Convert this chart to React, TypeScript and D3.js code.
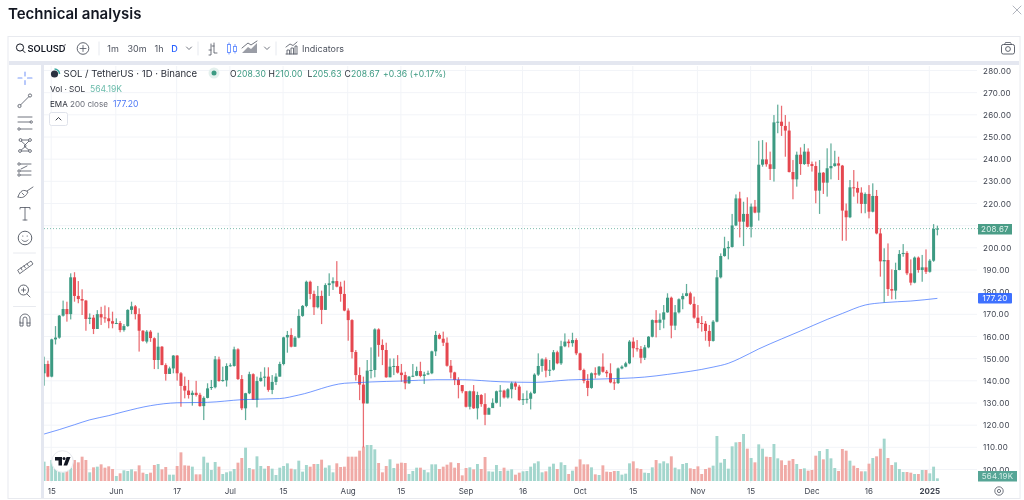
import React from 'react';
import * as d3 from 'd3';

const opens = [143.4,147.6,141.9,158.7,159.5,169.4,172.4,170.1,186.7,178.3,
176.9,176.2,167.9,168.5,163.4,170.1,168.6,168.2,166.9,165.8,
166.1,162.9,164.7,172,173.6,170.1,162.6,157.7,162.2,159.2,
149.4,155.4,147.1,143.1,145.6,151.4,143.4,137.7,135.6,133.6,
134.6,133.7,128.6,132.3,137,137.1,149.7,139.9,140.2,146.7,
146.7,154.2,140.8,127.6,134.4,143,131.4,139.9,141.4,141.9,
135.9,139.5,141.9,147.6,159.6,160.7,155.4,159.5,169.3,173.8,
184.7,179.2,173.2,178.3,172,183.2,184,185,182.5,179.2,
171.7,167.4,153,142.6,138.3,129.8,144.6,144.9,163.2,156.2,
153.9,141.6,146.4,146.7,143.7,142.6,138.9,141.9,142.3,144.4,
142.2,142.9,143.4,153.3,160.7,159,157.2,146.8,143.8,140.4,
138.1,135.3,128.3,135.3,127.6,133.6,129.5,124.7,127.7,130.1,
135.3,135.6,132.5,136.2,138.9,137.4,131.3,131.8,131.9,134.4,
142.8,146.7,149.7,144.6,145,152.9,147.9,155.6,157.7,157,
158.4,152.4,144.9,140,136.8,143.4,142.8,146.4,144.1,143.4,
139.3,139,145.6,146.4,147.9,157.7,154.7,154.4,150.4,155.1,
159.9,167.4,166.2,167.6,170.9,177.5,164.9,170.9,176.8,178.3,
179.5,174.7,168.5,166.1,165.8,162.5,158,166.7,186.7,196.3,
199.8,200.4,210.1,222.3,211.8,215.3,209.5,218.6,215.9,237.5,
239.9,237.7,235.6,256.6,256.9,255,252.9,234.2,230.9,242,
237.8,243.4,237.8,236.9,225.8,233.9,229.4,235.9,236.9,238.1,
237.1,216.8,213.8,227.3,227,224.9,219.8,224.3,216.3,223.4,
206.5,193.9,194.5,181.4,180.7,190,197.2,197.7,188.5,184.3,
195.6,190,191.2,189.2,194.2,208.3];

const closes = [147.6,141.9,158.7,159.5,169.4,172.4,170.1,186.7,178.3,176.9,
176.2,167.9,168.5,163.4,170.1,168.6,168.2,166.9,165.8,166.1,
162.9,164.7,172,173.6,170.1,162.6,158,162.2,159.3,149.4,
155.4,147.1,143.1,145.6,151.4,143.4,137.7,135.6,133.6,134.6,
133.6,128.6,132.3,136.6,137.2,149.7,139.9,140.4,146.7,147,
154.2,140.8,127.6,134.4,143,131.4,139.9,141.4,141.9,135.9,
139.5,141.9,147.6,159.6,160.7,155.4,159.5,169.3,173.8,184.7,
179.2,173.2,178.3,172,183.2,184,185,182.5,179.2,171.7,
167.4,153,142.6,138.3,129.8,144.6,144.9,163.2,156.2,153.9,
141.6,146.4,146.7,143.7,142.6,138.9,141.9,142.3,144.4,142.2,
142.9,143.4,153.3,160.7,159,157.2,146.8,143.8,140.4,138.1,
135.3,128.3,135.3,127.6,133.6,129.5,124.7,127.7,130.1,135.3,
135.6,132.5,136.2,138.9,137.4,131.3,131.8,131.9,134.4,142.8,
146.7,149.7,144.6,145,152.9,147.9,155.6,157.7,157,158.4,
152.4,144.9,140,136.8,143.4,142.8,146.4,144.1,143.4,139.3,
139,145.6,146.4,147.9,157.7,154.7,154.4,150.4,155.1,159.9,
167.4,166.2,167.6,170.9,177.5,164.9,170.9,176.8,178.3,179.5,
174.7,168.5,166.1,165.8,162.5,158,166.7,186.7,196.3,199.8,
200.4,210.1,222.3,211.8,215.3,209.5,218.6,215.9,237.5,239.9,
237.7,235.6,256.6,256.9,255,252.9,234.2,230.9,242,237.8,
243.4,237.8,236.9,225.8,233.9,229.4,235.9,236.9,238.1,237.1,
216.8,213.8,227.3,227,224.9,219.8,224.3,216.3,223.4,206.5,
193.9,194.5,181.4,180.7,190,197.2,197.7,188.5,184.3,195.6,
190,191.2,189.2,194.2,208.5,208.67];

const highs = [150.9,149.1,159,164.7,169.7,176.2,175.7,188.5,189,185,
181.3,176.5,170.4,169.7,171.9,173.4,174,173.2,171.2,168.2,
167,165.6,172.3,175.7,174.2,172.7,162.9,162.9,162.9,159.6,
161.7,155.7,147.9,146.4,151.6,151.6,144,141.9,140.4,135.6,
140,134.6,133,138.9,140.4,151.2,150.9,146.4,147.9,147.9,
155.4,154.7,142.6,134.6,144.1,143.4,141.9,144.1,146.1,146.1,
142.6,143.4,148.6,159.9,162.5,163.7,160.2,172.3,174.2,185.2,
185.2,180.7,182.8,180.7,184,188.5,186.7,194,184.7,185.2,
172.7,167.8,153.9,146.1,141.9,149.4,155.1,163.7,163.7,158.7,
157.2,150.1,150.1,151.6,147.6,144.1,142.2,147.6,146.4,148.6,
144.1,144.6,153.6,162.5,161.4,162.2,159.6,149.4,144.1,141.6,
138.1,135.3,135.6,138.1,135.1,134,134.4,128,132.1,135.6,
138.1,136,136.7,139.6,139.6,138.2,134.4,135.6,135.1,143.4,
152.4,150.2,150.6,149.4,153.9,153.6,158.1,161.4,158.7,161.7,
159.2,152.7,145.5,143,143.8,146.1,146.7,152.4,144.9,147.9,
140.7,146,147,148.6,158.4,159.6,158.4,155.7,156.2,160.2,
167.7,171.9,170.4,174.2,179.5,178,174.2,177.2,179.5,183.7,
180.2,178,174.2,169.2,167,165.2,167.4,190,197.5,205,
203,215.3,224.1,225.3,220.8,222.8,220,221.6,248.3,248.6,
247.6,243.4,259.9,264.6,264.1,259.9,256.9,239.6,243.4,245.3,
246.9,244.9,238.9,238.9,239.6,234.2,244.9,247.1,243.8,241.1,
237.4,220,230.6,235.1,229.9,227.3,225,228.3,229.1,226.1,
208.8,199.8,202,190.3,193.3,199,201.7,198.5,194.8,196.1,
196.1,196.8,199.3,194.9,210.7,210];

const lows = [137.8,141.6,141.6,156.4,159,169,166.7,167.7,175.7,175,
169.7,162.6,165.6,161.1,163.4,165.2,166.2,163.7,163.7,165.6,
161.9,162.2,164.4,170.1,167.7,153.2,157.6,156.9,157.6,145.3,
145.3,147.1,140.1,143.1,143.4,140.1,128.3,132.1,132,128.8,
132.9,128.3,122.3,132.1,135.9,136.6,139.6,139.6,137.4,146.4,
146.4,140.4,126.8,122.3,134,131.4,128,139.6,137.4,135.1,
134,138.1,141.9,147,152.7,155.1,155.4,159.2,168.9,173.2,
176.8,169.7,172.7,165.6,172,178.3,181,182.2,175.7,171.4,
158.1,150.1,140.1,131.3,110,129.8,141.1,141.6,150.9,147.1,
141.4,141.6,142.6,143.3,139.6,136.2,138.6,141.7,142.1,141.6,
138.6,142.6,143,151.2,158.7,155.7,146.4,141.1,138.1,132.1,
134.4,128,127.1,127.3,122.6,128.3,120,127.4,129.8,129.8,
128.3,132,132,132.1,135.9,131,129.1,129.8,127.1,134.1,
142.2,144.1,141.6,142.2,144.6,147.5,147.2,155.2,155.1,155.4,
151.6,144.6,138.9,133.1,136.4,141.1,142.2,143.7,141.6,138.9,
135.9,138.6,145.2,146.1,147.5,150.6,153.2,147.9,149.4,154.7,
159.6,159.6,162.9,163.7,170.7,159.2,162.9,170.4,172.3,178.1,
174.2,168,163.7,162.2,158.1,155.4,157.7,166.4,186.2,196,
194.8,200.1,209.8,204.7,200.8,209.2,204.7,215.6,212.3,236.6,
236.6,230.6,229.9,251.7,250.5,241.1,234,221.9,227.6,232.9,
237.4,236.6,234.4,220.1,215.3,224.3,223.1,230.9,236.6,230.6,
203.2,203.2,213.4,223.1,220,215.6,215.6,213.3,216,206.1,
187,175.3,178.3,176.8,176.8,189.9,196,187.7,183.1,184,
188.8,184.7,188.2,188.8,193.7,205.63];

// volume, in lots of about 70.5K
const volumeLots = [58,45,63,48,50,50,50,58,63,56,
73,63,26,41,43,50,40,44,36,15,
23,32,30,35,29,47,25,21,25,48,
51,35,42,19,19,45,86,47,46,43,
20,20,73,55,33,57,43,21,26,29,
36,55,69,100,39,35,74,45,37,45,
37,18,40,45,53,37,35,61,28,48,
43,51,51,64,40,47,26,53,42,43,
73,73,73,91,103,108,108,95,54,26,
45,65,39,52,55,54,21,30,40,40,
33,26,50,50,36,43,49,56,40,54,
17,39,41,35,51,36,72,29,28,48,
30,40,31,35,19,25,29,30,43,53,
59,26,29,43,52,36,56,48,21,31,
43,65,50,50,41,20,18,47,28,27,
30,30,19,22,53,59,38,36,25,24,
41,63,53,59,53,74,40,35,51,54,
38,36,44,21,36,40,46,135,55,66,
37,104,116,117,141,97,69,56,110,97,
73,72,111,68,62,48,61,66,51,36,
38,31,33,76,90,65,96,68,39,30,
96,91,61,46,39,29,29,52,69,74,
97,127,69,48,56,36,27,27,25,21,
21,33,33,23,43,8];

// EMA 200 read at sparse positions (candle index, value)
const emaIndex = [0,4,8,12,17,21,28,35,43,52,62,67,79,84,86,94,103,110,120,129,138,146,158,164,176,180,183,188,194,199,206,210,216,221,228,235];
const emaValues = [116,118,120.2,122.4,124.3,126.1,128.8,130.1,130.3,131.5,132,133.6,138.9,139.3,139.5,139.9,140.5,140.5,139.6,139.3,140.4,140.8,141.7,142.9,146.2,147.9,150.1,154.4,158.9,162.5,167.7,170.4,174.2,175.3,176,177.2];

const priceTicks = [280,270,260,250,240,230,220,210,200,190,180,170,160,150,140,130,120,110,100];
const hiddenPriceLabels = [210];
const dateTickLabels = ['15','Jun','17','Jul','15','Aug','15','Sep','16','Oct','15','Nov','15','Dec','16','2025'];
const dateTickIndex = [2,19,35,49,63,80,94,111,126,141,155,172,186,202,217,233];
const intervals = ['1m','30m','1h'];
const intervalX = [113,137,159];

const UP = '#3c9a82';
const DOWN = '#e5474f';
const UP_VOL = '#a3d6cd';
const DOWN_VOL = '#f0aaa6';
const BLUE = '#2962ff';
const INK = '#4d525e';
const FONT = 'Inter, "Noto Sans", sans-serif';

const x = d3.scaleLinear().domain([0, 235]).range([44.1, 937.4]);
const y = d3.scaleLinear().domain([100, 280]).range([469.5, 70.5]);
const yVol = d3.scaleLinear().domain([0, 141]).range([481, 434]);
const emaLine = d3.line<number>().x((d) => x(d)).y((_, i) => y(emaValues[i])).curve(d3.curveMonotoneX);

function Icon({ d, sw = 0.8, color = INK }: { d: string; sw?: number; color?: string }) {
  return <path d={d} fill="none" stroke={color} strokeWidth={sw} strokeLinecap="round" strokeLinejoin="round" />;
}

export default function App() {
  const bodyW = 3;
  const wickW = 1.25;
  const barW = 2.9;
  return (
    <svg width={1024} height={500} viewBox="0 0 1024 500"
      style={{ position: 'absolute', left: 0, top: 0, background: '#fff', filter: 'blur(0.35px)' }} fontFamily={FONT}>
      <text x={8} y={19} fontSize={15} fontWeight={600} fill="#131722">Technical analysis</text>
      <Icon d="M1013 6 L1021 14 M1021 6 L1013 14" color="#b2b5be" sw={1} />

      {/* frame */}
      <rect x={8} y={36.5} width={1012} height={462} fill="#fff" stroke="#e8eaef" />
      {/* grid */}
      <g stroke="#f2f4f8" strokeWidth={1}>
        {priceTicks.map((p) => <line key={p} x1={44} x2={977} y1={y(p)} y2={y(p)} />)}
        {dateTickIndex.map((k, i) => <line key={i} x1={x(k) - 0.5} x2={x(k) - 0.5} y1={66} y2={483} />)}
      </g>

      {/* volume */}
      <g>
        {volumeLots.map((v, i) => (
          <rect key={i} x={x(i) - barW / 2} y={yVol(v)} width={barW} height={yVol(0) - yVol(v)}
            fill={closes[i] >= opens[i] ? UP_VOL : DOWN_VOL} />
        ))}
      </g>

      {/* last price line */}
      <line x1={44} x2={978} y1={y(208.67)} y2={y(208.67)} stroke="#3c9a82" strokeOpacity={0.65} strokeWidth={1} strokeDasharray="1 2" />

      {/* candles */}
      <g>
        {opens.map((o, i) => {
          const c = closes[i];
          const col = c >= o ? UP : DOWN;
          const top = y(Math.max(o, c));
          const h = Math.max(1, Math.abs(y(o) - y(c)));
          return (
            <g key={i} fill={col}>
              <rect x={x(i) - wickW / 2} y={y(highs[i])} width={wickW} height={y(lows[i]) - y(highs[i])} fillOpacity={0.8} />
              <rect x={x(i) - bodyW / 2} y={top} width={bodyW} height={h} />
            </g>
          );
        })}
      </g>

      {/* EMA */}
      <path d={emaLine(emaIndex) ?? ''} fill="none" stroke={BLUE} strokeOpacity={0.65} strokeWidth={1} />

      {/* toolbar and left rail */}
      <rect x={9} y={61} width={1010} height={4} fill="#e4e7f0" />
      <rect x={41} y={65} width={3} height={433} fill="#e4e7f0" />
      <rect x={9} y={37} width={1010} height={24} fill="#fff" />
      <rect x={9} y={65} width={32} height={433} fill="#fff" />

      {/* top toolbar */}
      <circle cx={20} cy={47.5} r={3.6} fill="none" stroke="#131722" strokeWidth={1} />
      <Icon d="M22.6 50.2 L25 52.6" color="#131722" sw={1} />
      <text x={27.5} y={51.5} fontSize={9.3} fontWeight={600} fill="#131722">SOLUSD</text>
      <text x={64} y={50} fontSize={7} fill="#131722">’</text>
      <circle cx={83} cy={48.5} r={5.8} fill="none" stroke={INK} strokeWidth={0.9} />
      <Icon d="M83 45.5 V51.5 M80 48.5 H86" />
      <Icon d="M99 42 V55 M198 42 V55 M276 42 V55" color="#e0e3eb" />
      {intervals.map((t, i) => <text key={t} x={intervalX[i]} y={52} textAnchor="middle" fontSize={9} fill={INK}>{t}</text>)}
      <text x={174.5} y={52} textAnchor="middle" fontSize={9} fontWeight={500} fill={BLUE}>D</text>
      <Icon d="M186.5 47 L189 49.5 L191.5 47" />
      <Icon d="M209 55 H211 V44 M211 50 H209 M214 43 V53 H217 M214 46 H212" />
      <g stroke={BLUE} strokeOpacity={0.7} fill="none" strokeWidth={0.9}>
        <rect x={227.5} y={44.5} width={3} height={8} />
        <rect x={233.5} y={46.5} width={3} height={5} />
        <path d="M229 42.5 V44.5 M229 52.5 V54.5 M235 44 V46.5 M235 51.5 V53.5" />
      </g>
      <path d="M242 53 L248 47 L251 49 L257 43 V53 Z" fill="#9a9da6" />
      <Icon d="M242 48 L248 43 L251 45 L257 41" />
      <Icon d="M264.5 47 L267 49.5 L269.5 47" />
      <Icon d="M286 54 H297 M287 54 V50 H289.5 V54 M291 54 V48 H293.5 V54 M295 54 V46 H297 V54 M286 47 L290 44 L293 45.5 L297 42" />
      <text x={302} y={51.5} fontSize={9} fill={INK}>Indicators</text>
      <rect x={1001.5} y={44.5} width={13} height={9.5} rx={1.8} fill="none" stroke={INK} strokeWidth={0.9} />
      <circle cx={1008} cy={49} r={2.4} fill="none" stroke={INK} strokeWidth={0.9} />
      <Icon d="M1004.5 44.5 L1005.5 42.5 H1010.5 L1011.5 44.5" />

      {/* left tools */}
      <Icon color="#7d9cf8" d="M25 72 V76 M25 80.5 V84.5 M18 78 H22 M27.5 78 H32" sw={1.1} />
      <circle cx={19.5} cy={106} r={1.6} fill="none" stroke={INK} strokeWidth={0.8} />
      <circle cx={30} cy={95.5} r={1.6} fill="none" stroke={INK} strokeWidth={0.8} />
      <Icon d="M20.6 104.9 L28.9 96.6" />
      <Icon d="M18 117 H32 M18 122 H30 M20.5 129 H32" />
      <circle cx={31.2} cy={122} r={1.2} fill="none" stroke={INK} strokeWidth={0.8} />
      <circle cx={19} cy={129} r={1.2} fill="none" stroke={INK} strokeWidth={0.8} />
      <Icon d="M20.5 140 L30 140 L24 146 L30 151 L20 151 L26 146 Z" />
      <circle cx={20.5} cy={140} r={1.4} fill="#fff" stroke={INK} strokeWidth={0.8} />
      <circle cx={30} cy={140} r={1.4} fill="#fff" stroke={INK} strokeWidth={0.8} />
      <circle cx={20} cy={151} r={1.4} fill="#fff" stroke={INK} strokeWidth={0.8} />
      <circle cx={30} cy={151} r={1.4} fill="#fff" stroke={INK} strokeWidth={0.8} />
      <Icon d="M20 164 H31 M20 171 H31 M20 175 H31 M21 169 L27 166" />
      <circle cx={19} cy={164} r={1.2} fill="#fff" stroke={INK} strokeWidth={0.8} />
      <circle cx={19} cy={171} r={1.2} fill="#fff" stroke={INK} strokeWidth={0.8} />
      <circle cx={19} cy={175} r={1.2} fill="#fff" stroke={INK} strokeWidth={0.8} />
      <Icon d="M18 197 C20 190 24 189 28 192 C26 196 23 199 18 197 M27 191 L33 187 M24 195 L22 193" />
      <Icon d="M20 209 V207.5 H30 V209 M25 207.5 V220 M23 220 H27" />
      <circle cx={25} cy={238} r={6.8} fill="none" stroke={INK} strokeWidth={0.9} />
      <Icon d="M22 240 C23.5 242 26.5 242 28 240" />
      <circle cx={22.8} cy={236} r={0.6} fill={INK} />
      <circle cx={27.2} cy={236} r={0.6} fill={INK} />
      <Icon d="M13.5 253 H35.5 M13.5 306.5 H35.5" color="#e8eaef" sw={1} />
      <Icon d="M18 270 L31 261 L33 264 L20 273.5 Z M21 268 L22 270 M24 266 L25.5 268 M27 264 L28.5 266" />
      <circle cx={23.5} cy={290} r={5} fill="none" stroke={INK} strokeWidth={0.9} />
      <Icon d="M27 294 L30 297 M21.5 290 H25.5 M23.5 288 V292" />
      <Icon d="M20 322 V319 A5 5 0 0 1 30 319 V322 V326 H27 V319 A2 2 0 0 0 23 319 V326 H20 V322 M20 323 H23 M27 323 H30" />

      {/* legend */}
      <circle cx={54.5} cy={74} r={3.6} fill="#2a3140" />
      <path d="M54.5 69 A5 5 0 0 1 59.5 74" fill="none" stroke="#38a7a0" strokeWidth={1.6} />
      <text x={63.5} y={76.8} fontSize={9.6} fill="#2a2e39">SOL / TetherUS · 1D · Binance</text>
      <circle cx={214} cy={73} r={5.5} fill="#e3f0ed" />
      <circle cx={214} cy={73} r={2.5} fill="#3c9a82" />
      <g fontSize={8.6} fill="#3c9a82" letterSpacing={0.1}>
        <text x={230} y={76.5}><tspan fill="#2a2e39">O</tspan>208.30</text>
        <text x={268.5} y={76.5}><tspan fill="#2a2e39">H</tspan>210.00</text>
        <text x={307.5} y={76.5}><tspan fill="#2a2e39">L</tspan>205.63</text>
        <text x={344.5} y={76.5}><tspan fill="#2a2e39">C</tspan>208.67</text>
        <text x={383} y={76.5}>+0.36 (+0.17%)</text>
      </g>
      <text x={50} y={91.5} fontSize={8.2} fill="#2a2e39">Vol · SOL</text>
      <text x={90} y={91.5} fontSize={8.6} fill="#6cbcac">564.19K</text>
      <text x={50} y={107} fontSize={8.1} fill="#2a2e39">EMA <tspan fill="#6a6d78">200 close</tspan></text>
      <text x={113} y={107} fontSize={8.6} fill="#4d78f5">177.20</text>
      <rect x={49.5} y={112.5} width={18} height={13} rx={2} fill="#fff" stroke="#e0e3eb" />
      <Icon d="M56 120 L58.5 117.5 L61 120" color="#131722" />

      {/* TV logo */}
      <circle cx={62.5} cy={461.5} r={10.8} fill="#fff" stroke="#e8eaef" />
      <path d="M55 457 H62 V465.5 H58.5 V460.5 H55 Z M63.5 465.5 L66.6 457 H70.5 L67.2 465.5 Z" fill="#131722" />
      <circle cx={64} cy={458.6} r={1.5} fill="#131722" />

      {/* price axis */}
      <g fontSize={8} fill="#3f4450" letterSpacing={0.25}>
        {priceTicks.filter((p) => !hiddenPriceLabels.includes(p)).map((p) => <text key={p} x={983} y={y(p) + 3} >{p.toFixed(2)}</text>)}
      </g>
      <rect x={978} y={224} width={34} height={10.5} fill="#4a9d87" />
      <text x={995} y={232.3} textAnchor="middle" fontSize={8} fill="#dff2ec" letterSpacing={0.25}>208.67</text>
      <rect x={978} y={293} width={34} height={10.5} rx={1} fill={BLUE} fillOpacity={0.9} />
      <text x={995} y={301.3} textAnchor="middle" fontSize={8} fill="#fff" letterSpacing={0.25}>177.20</text>
      <rect x={978} y={471} width={39} height={10.5} fill="#56a596" />
      <text x={997.5} y={479.3} textAnchor="middle" fontSize={8} fill="#d6eee8" letterSpacing={0.25}>564.19K</text>

      {/* date axis */}
      <g fontSize={8} fill="#3f4450" textAnchor="middle">
        {dateTickLabels.map((t, i) => (
          <text key={i} x={x(dateTickIndex[i])} y={494} fontWeight={t === '2025' ? 700 : 400}>{t}</text>
        ))}
      </g>
      <circle cx={999} cy={491} r={4.2} fill="none" stroke={INK} strokeWidth={0.8} />
      <circle cx={999} cy={491} r={1.6} fill="none" stroke={INK} strokeWidth={0.8} />
    </svg>
  );
}
